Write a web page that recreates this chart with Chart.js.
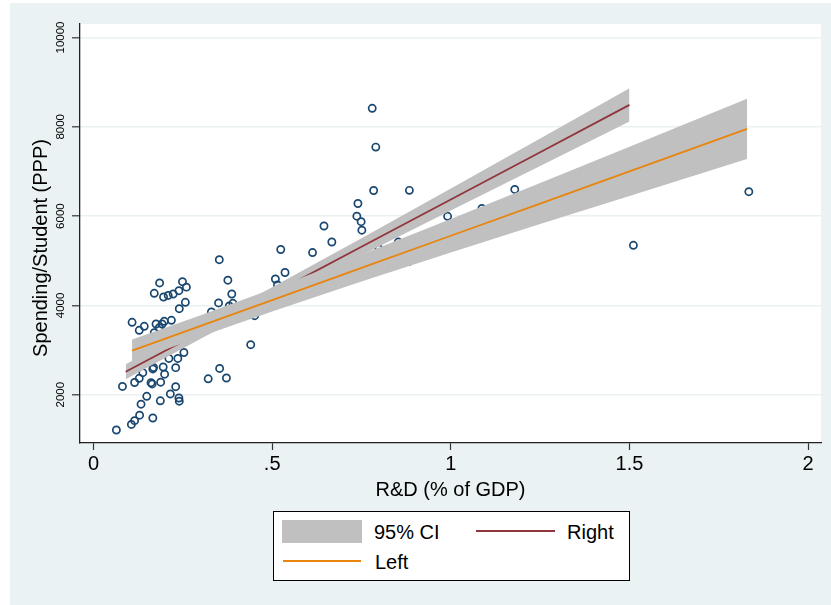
<!DOCTYPE html>
<html>
<head>
<meta charset="utf-8">
<script src="https://cdn.jsdelivr.net/npm/chart.js@4"></script>
<style>
  html, body { margin: 0; padding: 0; background: #fff; }
  body { width: 831px; height: 605px; position: relative; overflow: hidden; font-family: "Liberation Sans", Arial, sans-serif; }
  #wrap { position: absolute; left: 0; top: 0; width: 831px; height: 605px; }
  #legend { position: absolute; left: 273px; top: 511px; width: 355px; height: 68px; border: 1px solid #000; background: #fff; }
  #legend .sw { position: absolute; }
  #legend .tx { position: absolute; font-size: 20px; line-height: 24px; color: #000; white-space: nowrap; }
</style>
</head>
<body>
<div id="wrap"><canvas id="c" width="831" height="605"></canvas></div>
<div id="legend">
  <div class="sw" style="left:8px;top:8px;width:80px;height:23px;background:#c0c0c0"></div>
  <div class="tx" style="left:100px;top:8px">95% CI</div>
  <div class="sw" style="left:202px;top:18px;width:79px;height:2px;background:#90353b"></div>
  <div class="tx" style="left:293px;top:8px">Right</div>
  <div class="sw" style="left:9px;top:48px;width:78px;height:2px;background:#e8850f"></div>
  <div class="tx" style="left:101px;top:38px">Left</div>
</div>
<script>
// values
const rdX = [.064,.106,.115,.129,.166,.133,.149,.187,.215,.230,.239,.240,.081,.115,.128,.138,.161,.164,.188,.199,.195,.166,.168,.230,.211,.236,.253,
  .108,.128,.142,.175,.184,.198,.218,.192,.170,
  .240,.257,.170,.196,.209,.223,.239,.260,.249,.185,
  .352,.376,.387,.350,.390,.380,.330,.451,.440,.353,.321,.372,
  .509,.515,.536,.524,.613,.709,
  .645,.667,.737,.740,.749,.751,
  .780,.790,.784,.884,.799,.853,.882,
  .991,1.087,1.179,1.511,1.834];
const spendY = [1209,1333,1418,1541,1478,1787,1964,1863,2016,2179,1926,1854,2184,2273,2367,2493,2269,2240,2280,2459,2620,2576,2609,2605,2811,2811,2945,
  3621,3442,3532,3583,3500,3644,3666,3583,3389,
  3926,4069,4271,4188,4222,4255,4329,4408,4531,4502,
  5023,4564,4255,4054,4047,3986,3852,3769,3120,2587,2356,2374,
  4591,4457,4737,5252,5183,4979,
  5778,5420,5998,6282,5875,5684,
  8414,7545,6573,6576,5263,5418,4981,
  5995,6170,6596,5346,6546];

const leftX   = [0.108, 0.3, 0.5, 0.75, 1.0, 1.25, 1.5, 1.829];
const leftFit = [2985, 3539, 4116, 4838, 5559, 6281, 7002, 7952];
const leftLo  = [2735, 3301, 3864, 4536, 5184, 5821, 6451, 7276];
const leftHi  = [3235, 3777, 4368, 5140, 5934, 6741, 7553, 8628];

const rightX   = [0.09, 0.3, 0.5, 0.75, 1.0, 1.25, 1.5];
const rightFit = [2515, 3405, 4253, 5312, 6372, 7431, 8491];
const rightLo  = [2347, 3255, 4097, 5121, 6127, 7124, 8117];
const rightHi  = [2683, 3555, 4409, 5503, 6617, 7738, 8865];

const xTicks = [0, 0.5, 1, 1.5, 2];
const xTickLabels = ["0", ".5", "1", "1.5", "2"];
const yTicks = [2000, 4000, 6000, 8000, 10000];
const xTitle = "R&D (% of GDP)";
const yTitle = "Spending/Student (PPP)";

const FONT = '"Liberation Sans", Arial, sans-serif';
const BAND = "#c0c0c0";
const pts = (xs, ys) => xs.map((x, i) => ({ x, y: ys[i] }));

// stata-ish panel + rotated y labels
const stataLook = {
  id: "stataLook",
  beforeDraw(chart) {
    const { ctx, chartArea: a } = chart;
    ctx.save();
    ctx.fillStyle = "#eaf2f3";
    ctx.fillRect(10, 3, 821, 602);
    ctx.fillStyle = "#fff";
    ctx.fillRect(a.left, a.top, a.right - a.left, a.bottom - a.top);
    ctx.restore();
  },
  afterDraw(chart) {
    const ctx = chart.ctx, ys = chart.scales.y;
    ctx.save();
    ctx.fillStyle = "#000";
    ctx.textAlign = "center";
    ctx.textBaseline = "middle";
    ctx.font = "11.5px " + FONT;
    yTicks.forEach((v) => {
      ctx.save();
      ctx.translate(61, ys.getPixelForValue(v));
      ctx.rotate(-Math.PI / 2);
      ctx.fillText(String(v), 0, 0);
      ctx.restore();
    });
    ctx.font = "20px " + FONT;
    ctx.translate(41.5, 248);
    ctx.rotate(-Math.PI / 2);
    ctx.fillText(yTitle, 0, 0);
    ctx.restore();
  },
};

// draw order (high order first): points, right CI, right fit, left CI, left fit
const bandLine = { type: "line", pointRadius: 0, borderWidth: 0, borderColor: "rgba(0,0,0,0)", tension: 0 };

Chart.defaults.color = "#000";
Chart.defaults.font.family = FONT;

new Chart(document.getElementById("c"), {
  type: "scatter",
  data: {
    datasets: [
      { type: "line", label: "Right", data: pts(rightX, rightFit), borderColor: "#90353b", borderWidth: 1.8, pointRadius: 0, fill: false, order: 2 },
      { type: "line", label: "Left", data: pts(leftX, leftFit), borderColor: "#e8850f", borderWidth: 1.8, pointRadius: 0, fill: false, order: 0 },
      { ...bandLine, label: "rhi", data: pts(rightX, rightHi), fill: "+1", backgroundColor: BAND, order: 3 },
      { ...bandLine, label: "rlo", data: pts(rightX, rightLo), fill: false, order: 3 },
      { ...bandLine, label: "lhi", data: pts(leftX, leftHi), fill: "+1", backgroundColor: BAND, order: 1 },
      { ...bandLine, label: "llo", data: pts(leftX, leftLo), fill: false, order: 1 },
      { type: "scatter", label: "pts", data: pts(rdX, spendY), pointStyle: "circle", pointRadius: 3.6, borderWidth: 1.7,
        borderColor: "#1a476f", backgroundColor: "rgba(0,0,0,0)", order: 4 },
    ],
  },
  options: {
    responsive: false,
    animation: false,
    events: [],
    layout: { padding: { left: 0, top: 24, right: 10, bottom: 102 } },
    plugins: { legend: { display: false }, tooltip: { enabled: false } },
    scales: {
      x: {
        type: "linear",
        min: -0.0378,
        max: 2.036,
        afterBuildTicks: (s) => { s.ticks = xTicks.map((v) => ({ value: v })); },
        afterFit: (s) => { s.height = 60; },
        ticks: { callback: (v) => xTickLabels[xTicks.indexOf(v)] ?? "", font: { size: 20 }, padding: 2.5, color: "#000", maxRotation: 0 },
        grid: { drawOnChartArea: false, tickLength: 7, tickColor: "#333", tickWidth: 1.2 },
        border: { color: "#222", width: 1.3 },
        title: { display: true, text: xTitle, font: { size: 20 }, color: "#000", padding: { top: 0, bottom: 1 } },
      },
      y: {
        type: "linear",
        min: 918,
        max: 10302,
        afterBuildTicks: (s) => { s.ticks = yTicks.map((v) => ({ value: v })); },
        afterFit: (s) => { s.width = 80; },
        ticks: { display: false },
        grid: { color: "#e9f1f2", lineWidth: 1.6, tickLength: 8, tickColor: "#333", tickWidth: 1.2 },
        border: { color: "#222", width: 1.3 },
      },
    },
  },
  plugins: [stataLook],
});
</script>
</body>
</html>
